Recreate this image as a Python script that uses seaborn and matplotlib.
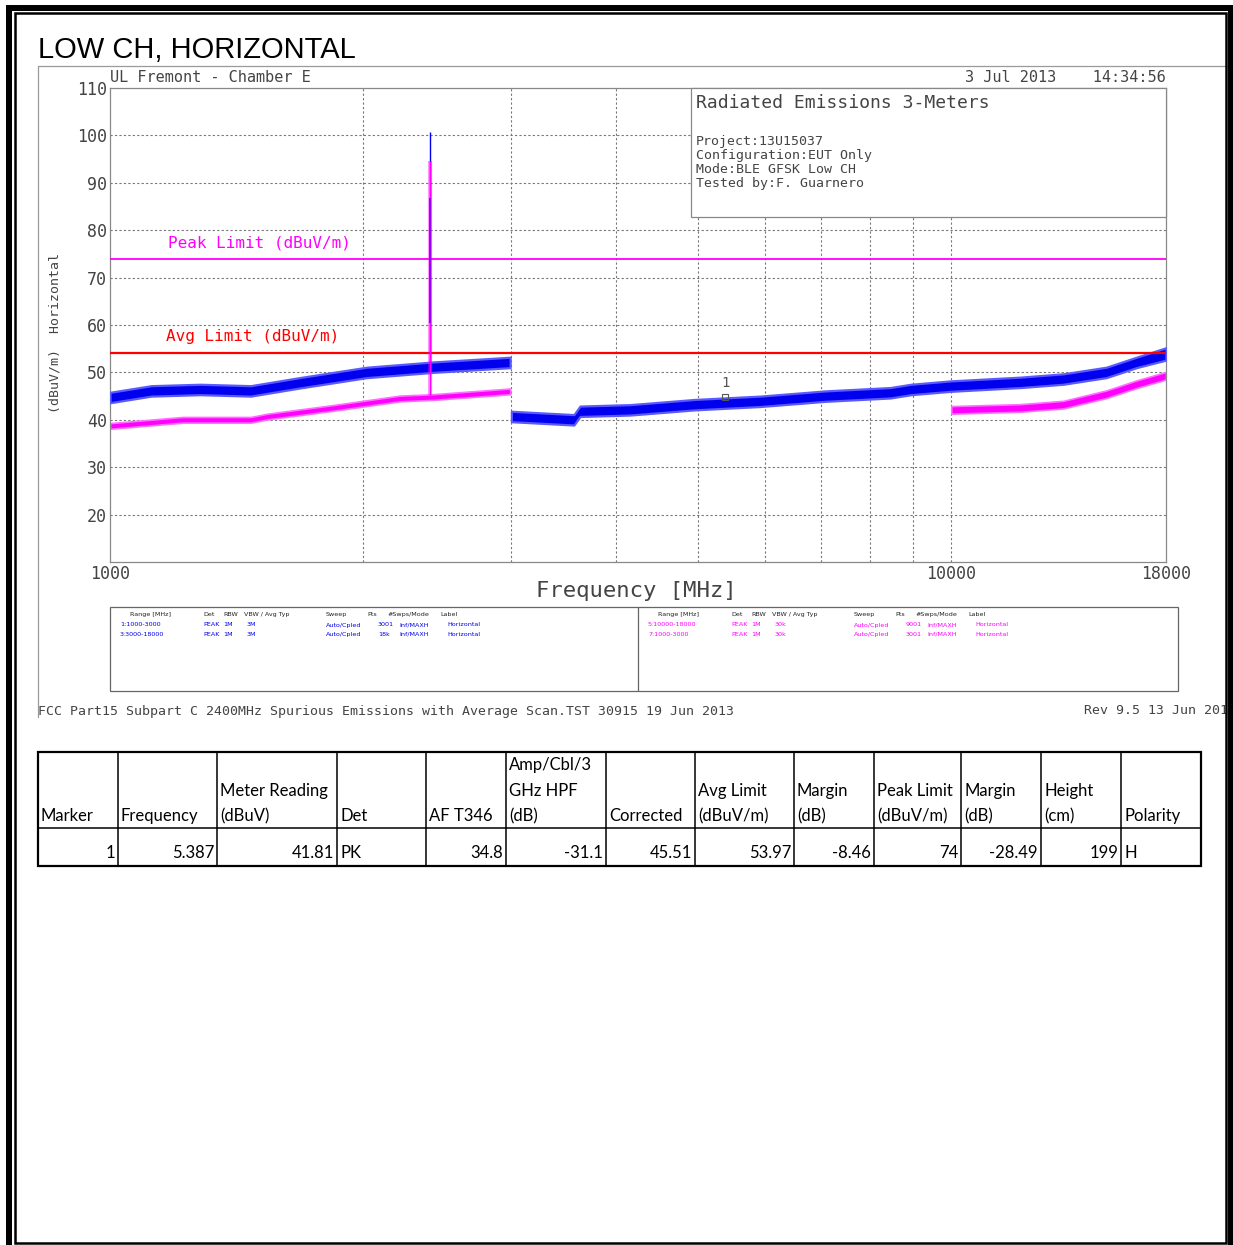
import matplotlib
matplotlib.use("Agg")
import matplotlib.pyplot as plt
from matplotlib.patches import Rectangle
from matplotlib.lines import Line2D
import seaborn as sns
import pandas as pd

# --- DATA ---
# Blue peak trace, 1-3 GHz and 3-18 GHz (envelope of the noisy trace)
BLUE_A_FREQ = [1000, 1120, 1280, 1470, 1680, 2020, 2420, 2990]
BLUE_A_LOW = [43.6, 45.0, 45.3, 45.0, 46.7, 48.9, 50.0, 51.0]
BLUE_A_HIGH = [45.8, 47.2, 47.5, 47.2, 48.9, 51.1, 52.2, 53.2]

BLUE_B_FREQ = [3000, 3560, 3620, 4150, 4960, 5930, 7090, 8460, 8960, 9970,
               12080, 13590, 15290, 16600, 18000]
BLUE_B_LOW = [39.6, 38.9, 40.7, 41.0, 42.1, 42.8, 43.9, 44.6, 45.3, 46.0,
              46.8, 47.5, 48.9, 51.0, 52.6]
BLUE_B_HIGH = [41.8, 41.1, 42.9, 43.2, 44.3, 45.0, 46.1, 46.8, 47.5, 48.2,
               49.0, 49.7, 51.1, 53.2, 55.2]

# Magenta average trace, 1-3 GHz and 10-18 GHz
MAG_A_FREQ = [1000, 1220, 1470, 1540, 1840, 2210, 2420, 2990]
MAG_A_LOW = [38.1, 39.4, 39.4, 40.1, 41.9, 43.9, 44.2, 45.4]
MAG_A_HIGH = [39.3, 40.6, 40.6, 41.3, 43.1, 45.1, 45.4, 46.6]

MAG_B_FREQ = [10000, 12080, 13590, 15290, 16600, 18000]
MAG_B_LOW = [41.3, 41.7, 42.4, 44.6, 46.7, 48.5]
MAG_B_HIGH = [42.9, 43.3, 44.0, 46.2, 48.3, 50.1]

# Carrier spike at the low channel
SPIKE_FREQ = 2402
SPIKE_BLUE = [52.0, 100.8]
SPIKE_MAG = [45.2, 94.5]
SPIKE_PURPLE = [60.4, 86.8]

LIMIT_FREQ = [1000, 18000]
PEAK_LIMIT = 74
AVG_LIMIT = 54

MARKER_FREQ = 5387
MARKER_LEVEL = 44.8

X_TICKS = [1000, 10000, 18000]
X_GRID = [2000, 3000, 4000, 5000, 6000, 7000, 8000, 9000, 10000]
Y_TICKS = [20, 30, 40, 50, 60, 70, 80, 90, 100, 110]

INFO_LINES = ["Project:13U15037", "Configuration:EUT Only",
              "Mode:BLE GFSK Low CH", "Tested by:F. Guarnero"]

LEGEND_HEADER = ["Range [MHz]", "Det", "RBW", "VBW / Avg Typ", "Sweep", "Pts",
                 "#Swps/Mode", "Label"]
LEGEND_LEFT_ROWS = [
    ["1:1000-3000", "PEAK", "1M", "3M", "Auto/Cpled", "3001", "Inf/MAXH", "Horizontal"],
    ["3:3000-18000", "PEAK", "1M", "3M", "Auto/Cpled", "18k", "Inf/MAXH", "Horizontal"],
]
LEGEND_RIGHT_ROWS = [
    ["5:10000-18000", "PEAK", "1M", "30k", "Auto/Cpled", "9001", "Inf/MAXH", "Horizontal"],
    ["7:1000-3000", "PEAK", "1M", "30k", "Auto/Cpled", "3001", "Inf/MAXH", "Horizontal"],
]

TABLE_HEADERS = [["Marker"], ["Frequency"], ["Meter Reading", "(dBuV)"], ["Det"],
                 ["AF T346"], ["Amp/Cbl/3", "GHz HPF", "(dB)"], ["Corrected"],
                 ["Avg Limit", "(dBuV/m)"], ["Margin", "(dB)"],
                 ["Peak Limit", "(dBuV/m)"], ["Margin", "(dB)"], ["Height", "(cm)"],
                 ["Polarity"]]
TABLE_ROW = ["1", "5.387", "41.81", "PK", "34.8", "-31.1", "45.51", "53.97",
             "-8.46", "74", "-28.49", "199", "H"]

# --- STYLE ---
W, H = 1233, 1245
BLUE = "#0000ee"
BLUE_EDGE = "#5a5aff"
MAGENTA = "#ff00ff"
MAG_EDGE = "#ff70ff"
RED = "#ff0000"
PURPLE = "#9a00ff"
GREY = "#888888"
TXT = "#444444"
MONO = "DejaVu Sans Mono"

sns.set_theme(style="white")
plt.rcParams["font.family"] = ["DejaVu Sans"]


def fx(x):
    return x / W


def fy(y):
    return 1 - y / H


def frect(fig, x0, y0, x1, y1, **kw):
    fig.add_artist(Rectangle((fx(x0), fy(y1)), (x1 - x0) / W, (y1 - y0) / H,
                             transform=fig.transFigure, **kw))


def fline(fig, x0, y0, x1, y1, **kw):
    fig.add_artist(Line2D([fx(x0), fx(x1)], [fy(y0), fy(y1)],
                          transform=fig.transFigure, **kw))


fig = plt.figure(figsize=(W / 100, H / 100), dpi=100)
fig.patch.set_facecolor("white")

# page frame
frect(fig, 9, 8, 1231, 1250, fill=False, ec="black", lw=4.3, zorder=5)
frect(fig, 14.5, 12.5, 1225.5, 1242.5, fill=False, ec="black", lw=1.8, zorder=5)

fig.text(fx(38), fy(50), "LOW CH, HORIZONTAL", family="Liberation Sans",
         fontsize=21, color="black", va="center", ha="left")

# grey frame around the analyser image
fline(fig, 38, 66, 1228, 66, color="#9a9a9a", lw=0.9)
fline(fig, 38, 66, 38, 717, color="#9a9a9a", lw=0.9)

# --- analyser plot ---
ax = fig.add_axes([fx(110), fy(562), 1056 / W, 474 / H])
ax.set_xscale("log")
ax.set_xlim(1000, 18000)
ax.set_ylim(10, 110)

for yv in Y_TICKS[:-1]:
    ax.axhline(yv, color="#777777", lw=0.8, ls=(0, (2, 2)), zorder=0)
for xv in X_GRID:
    ax.axvline(xv, color="#777777", lw=0.8, ls=(0, (2, 2)), zorder=0)

ax.fill_between(BLUE_A_FREQ, BLUE_A_LOW, BLUE_A_HIGH, fc=BLUE, ec=BLUE_EDGE,
                lw=1.6, zorder=3)
ax.fill_between(BLUE_B_FREQ, BLUE_B_LOW, BLUE_B_HIGH, fc=BLUE, ec=BLUE_EDGE,
                lw=1.6, zorder=3)
ax.fill_between(MAG_A_FREQ, MAG_A_LOW, MAG_A_HIGH, fc=MAGENTA, ec=MAG_EDGE,
                lw=1.2, zorder=2)
ax.fill_between(MAG_B_FREQ, MAG_B_LOW, MAG_B_HIGH, fc=MAGENTA, ec=MAG_EDGE,
                lw=1.2, zorder=2)

sns.lineplot(x=LIMIT_FREQ, y=[PEAK_LIMIT] * 2, ax=ax, color=MAGENTA, lw=1.3, zorder=4)
sns.lineplot(x=LIMIT_FREQ, y=[AVG_LIMIT] * 2, ax=ax, color=RED, lw=1.6, zorder=4)

# carrier spike
ax.vlines(SPIKE_FREQ, *SPIKE_MAG, color=MAGENTA, lw=3, alpha=0.4, zorder=5)
ax.vlines(SPIKE_FREQ, *SPIKE_BLUE, color=BLUE, lw=1.0, zorder=5)
ax.vlines(SPIKE_FREQ, *SPIKE_MAG, color=MAGENTA, lw=1.0, zorder=6)
ax.vlines(SPIKE_FREQ, *SPIKE_PURPLE, color=PURPLE, lw=1.4, zorder=7)

# marker 1
ax.plot([MARKER_FREQ], [MARKER_LEVEL], marker="s", ms=4, mfc="none",
        mec="#555555", mew=0.8, zorder=8)
ax.text(MARKER_FREQ, MARKER_LEVEL + 3.0, "1", ha="center", va="center",
        family=MONO, fontsize=10, color="#555555", zorder=8)

ax.set_xticks(X_TICKS)
ax.set_xticklabels([str(v) for v in X_TICKS], family=MONO, fontsize=12, color=TXT)
ax.xaxis.set_minor_locator(matplotlib.ticker.NullLocator())
ax.set_yticks(Y_TICKS)
ax.set_yticklabels([str(v) for v in Y_TICKS], family=MONO, fontsize=12, color=TXT)
ax.tick_params(length=0, pad=2)
for s in ax.spines.values():
    s.set_color(GREY)
    s.set_linewidth(0.9)
ax.set_xlabel("")
ax.set_ylabel("")

# texts around the plot
fig.text(fx(110), fy(78), "UL Fremont - Chamber E", family=MONO, fontsize=11,
         color=TXT, va="center")
fig.text(fx(1166), fy(78), "3 Jul 2013    14:34:56", family=MONO, fontsize=11,
         color=TXT, va="center", ha="right")
fig.text(fx(55), fy(333), "(dBuV/m)  Horizontal", family=MONO, fontsize=9.5,
         color=TXT, rotation=90, va="center", ha="center")
fig.text(fx(636), fy(591), "Frequency [MHz]", family=MONO, fontsize=16,
         color=TXT, va="center", ha="center")
fig.text(fx(168), fy(243), "Peak Limit (dBuV/m)", family=MONO, fontsize=11.5,
         color=MAGENTA, va="center")
fig.text(fx(166), fy(336), "Avg Limit (dBuV/m)", family=MONO, fontsize=11.5,
         color=RED, va="center")

# info box
frect(fig, 691, 88, 1166, 217, fc="white", ec=GREY, lw=0.9, zorder=3)
fig.text(fx(696), fy(103), "Radiated Emissions 3-Meters", family=MONO,
         fontsize=13, color=TXT, va="center", zorder=4)
for i, line in enumerate(INFO_LINES):
    fig.text(fx(696), fy(141 + i * 14.3), line, family=MONO, fontsize=9.5,
             color=TXT, va="center", zorder=4)

# trace legend
frect(fig, 110, 607, 1178, 691, fill=False, ec="#666666", lw=0.9)
fline(fig, 638, 607, 638, 691, color="#666666", lw=0.9)
HEAD_X = [130, 203, 223, 244, 326, 367, 388, 440]
ROW_X = [120, 203, 223, 247, 326, 378, 399, 447]
for off, rows, col in [(0, LEGEND_LEFT_ROWS, BLUE), (528, LEGEND_RIGHT_ROWS, MAGENTA)]:
    for label, x in zip(LEGEND_HEADER, HEAD_X):
        fig.text(fx(x + off), fy(615), label, fontsize=4.6, color="#222222",
                 va="center")
    for r, row in enumerate(rows):
        for label, x in zip(row, ROW_X):
            fig.text(fx(x + off), fy(625 + r * 9.5), label, fontsize=4.6,
                     color=col, va="center")

fig.text(fx(38), fy(711), "FCC Part15 Subpart C 2400MHz Spurious Emissions with "
         "Average Scan.TST 30915 19 Jun 2013", family=MONO, fontsize=9.5,
         color=TXT, va="center")
fig.text(fx(1084), fy(711), "Rev 9.5 13 Jun 201", family=MONO, fontsize=9.5,
         color=TXT, va="center")

# --- marker table ---
COL_X = [38, 118, 217, 337, 426, 506, 606, 695, 794, 874, 961, 1041, 1121, 1201]
ROW_Y = [752, 828, 866]
TFONT = "Lato"
frect(fig, COL_X[0], ROW_Y[0], COL_X[-1], ROW_Y[-1], fill=False, ec="black", lw=1.6)
fline(fig, COL_X[0], ROW_Y[1], COL_X[-1], ROW_Y[1], color="black", lw=1.1)
for x in COL_X[1:-1]:
    fline(fig, x, ROW_Y[0], x, ROW_Y[-1], color="black", lw=1.1)

HEAD_LINE_Y = [765, 791, 816]
for c, lines in enumerate(TABLE_HEADERS):
    ys = HEAD_LINE_Y[-len(lines):]
    for line, yv in zip(lines, ys):
        fig.text(fx(COL_X[c] + 3), fy(yv), line, family=TFONT, fontsize=12,
                 color="black", va="center", ha="left")

for c, val in enumerate(TABLE_ROW):
    if val in ("PK", "H"):
        fig.text(fx(COL_X[c] + 3), fy(853), val, family=TFONT, fontsize=12,
                 color="black", va="center", ha="left")
    else:
        fig.text(fx(COL_X[c + 1] - 3), fy(853), val, family=TFONT, fontsize=12,
                 color="black", va="center", ha="right")

fig.savefig("out.png", dpi=100, facecolor="white")
